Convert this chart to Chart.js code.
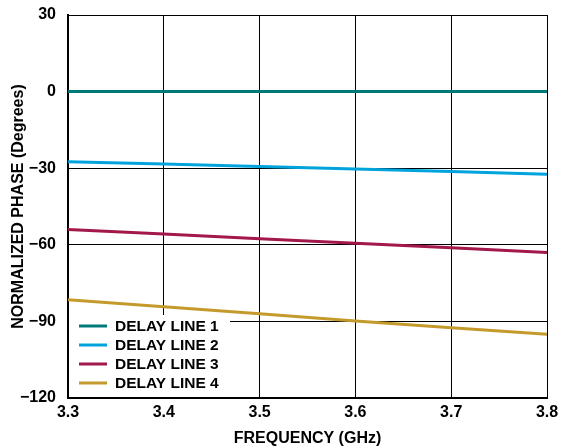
<!DOCTYPE html>
<html><head><meta charset="utf-8">
<script src="https://cdn.jsdelivr.net/npm/chart.js@4/dist/chart.umd.min.js"></script>
<style>html,body{margin:0;padding:0;background:#fff}#wrap{width:570px;height:448px}</style>
</head><body><div id="wrap"><canvas id="c" width="570" height="448"></canvas></div>
<script>
const freq = [3.3, 3.4, 3.5, 3.6, 3.7, 3.8];
const line1 = [0, 0, 0, 0, 0, 0];
const line2 = [-27.5, -28.4, -29.3, -30.3, -31.3, -32.4];
const line3 = [-54, -55.8, -57.6, -59.4, -61.2, -63];
const line4 = [-81.5, -84.3, -87, -89.8, -92.5, -95];
const seriesNames = ['DELAY LINE 1', 'DELAY LINE 2', 'DELAY LINE 3', 'DELAY LINE 4'];
const seriesColors = ['#007a78', '#00a3dc', '#a3184a', '#c49a2c'];
const yTicks = [30, 0, -30, -60, -90, -120];
const xTicks = [3.3, 3.4, 3.5, 3.6, 3.7, 3.8];

const FONT = 'Liberation Sans, Arial, sans-serif';
const mk = (arr) => freq.map((f, i) => ({x: f, y: arr[i]}));
const allSeries = [line1, line2, line3, line4];

const legendPlugin = {
  id: 'boxLegend',
  beforeDatasetsDraw(chart) {
    const ctx = chart.ctx, a = chart.chartArea;
    ctx.save();
    ctx.fillStyle = '#fff';
    ctx.fillRect(a.left + 1, 315, 230 - a.left - 1, a.bottom - 315 - 1);
    ctx.font = 'bold 15.5px ' + FONT;
    ctx.textBaseline = 'middle';
    chart.data.datasets.forEach((ds, i) => {
      const y = 326 + i * 19;
      ctx.strokeStyle = ds.borderColor;
      ctx.lineWidth = 3;
      ctx.beginPath(); ctx.moveTo(79, y); ctx.lineTo(107, y); ctx.stroke();
      ctx.fillStyle = '#000';
      ctx.fillText(ds.label, 115, y + 1);
    });
    ctx.restore();
  }
};

new Chart(document.getElementById('c'), {
  type: 'line',
  data: {
    datasets: allSeries.map((s, i) => ({
      label: seriesNames[i], data: mk(s), borderColor: seriesColors[i],
      backgroundColor: seriesColors[i], borderWidth: 3, pointRadius: 0, tension: 0, fill: false
    }))
  },
  options: {
    responsive: false, animation: false,
    layout: {padding: {top: 15, right: 23, left: 0, bottom: 0}},
    plugins: {legend: {display: false}, tooltip: {enabled: false}},
    scales: {
      x: {
        type: 'linear', min: 3.3, max: 3.8,
        afterBuildTicks: (s) => { s.ticks = xTicks.map(v => ({value: v})); },
        afterFit: (s) => { s.height = 50; s.paddingLeft = 0; s.paddingRight = 0; },
        grid: {color: '#000', lineWidth: 1, drawTicks: false},
        border: {color: '#000', width: 2},
        ticks: {color: '#000', font: {family: FONT, size: 16, weight: 'bold'}, padding: 5, maxRotation: 0,
          callback: (v) => v.toFixed(1)},
        title: {display: true, text: 'FREQUENCY (GHz)', color: '#000', font: {family: FONT, size: 16, weight: 'bold'}, padding: {top: 4, bottom: 0}}
      },
      y: {
        type: 'linear', min: -120, max: 30,
        afterBuildTicks: (s) => { s.ticks = yTicks.map(v => ({value: v})); },
        afterFit: (s) => { s.width = 68; s.paddingTop = 0; s.paddingBottom = 0; },
        grid: {color: '#000', lineWidth: 1, drawTicks: false},
        border: {color: '#000', width: 2},
        ticks: {color: '#000', font: {family: FONT, size: 16, weight: 'bold'}, padding: 12,
          callback: (v) => String(v).replace('-', '\u2212')},
        title: {display: true, text: 'NORMALIZED PHASE (Degrees)', color: '#000', font: {family: FONT, size: 16, weight: 'bold'}, padding: {top: 9, bottom: 0}}
      }
    }
  },
  plugins: [legendPlugin]
});
</script></body></html>
